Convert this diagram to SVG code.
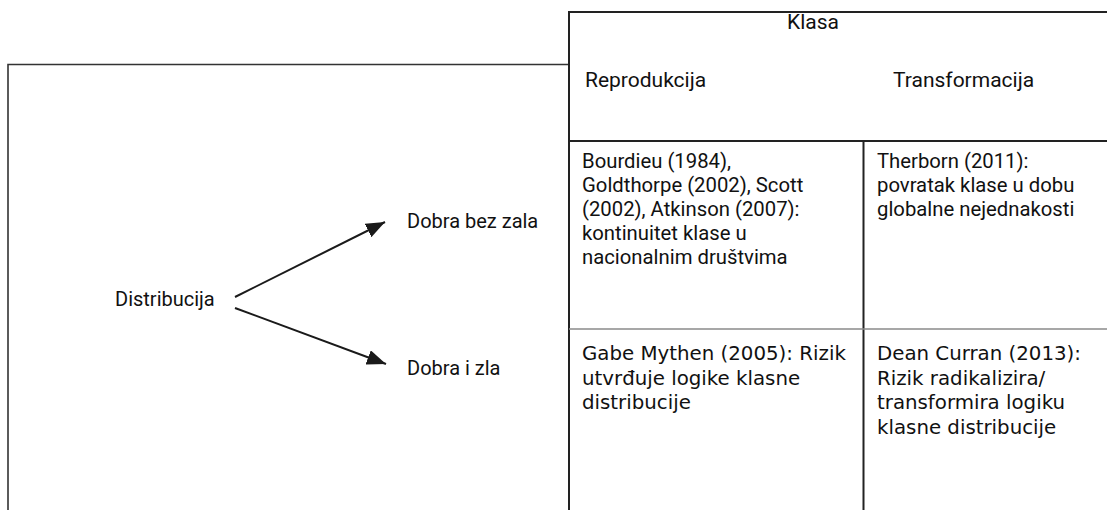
<svg xmlns="http://www.w3.org/2000/svg" width="1107" height="510" viewBox="0 0 1107 510">
  <style>
    .bg { fill: #ffffff; }
    .frame { fill: none; stroke: #333333; stroke-width: 1.6; }
    .grid { fill: none; stroke: #222222; stroke-width: 2; }
    .gridlight { fill: none; stroke: #8a8a8a; stroke-width: 1.6; }
    .conn { fill: none; stroke: #1a1a1a; stroke-width: 2; }
    .lbl { font-family: Roboto, "Open Sans", sans-serif; font-size: 20px; fill: #111111; }
    .u { font-family: Roboto, "Open Sans", sans-serif; font-size: 20.3px; fill: #111111; }
    .h { font-family: Roboto, "Open Sans", sans-serif; font-size: 21px; fill: #111111; }
    .d { font-family: "DejaVu Sans", sans-serif; font-size: 19.8px; fill: #111111; }
  </style>
  <defs>
    <marker id="arrowhead" viewBox="0 0 19 15" refX="19" refY="7.5" markerWidth="19" markerHeight="15" markerUnits="userSpaceOnUse" orient="auto">
      <path d="M0,0 L19,7.5 L0,15 Z" fill="#1a1a1a"/>
    </marker>
  </defs>
  <rect class="bg" x="0" y="0" width="1107" height="510"/>

  <g id="left-panel">
    <path class="frame" d="M8,520 L8,64.5 L569,64.5"/>
  </g>

  <g id="table">
    <path class="grid" d="M569,520 L569,12 L1110,12"/>
    <path class="grid" d="M569,141 L1110,141"/>
    <path class="grid" d="M863.5,141 L863.5,520"/>
    <path class="gridlight" d="M569,329 L1110,329"/>
  </g>

  <g id="node-klasa">
    <text class="h" x="813" y="29" text-anchor="middle">Klasa</text>
  </g>
  <g id="node-reprodukcija">
    <text class="h" x="585" y="87">Reprodukcija</text>
  </g>
  <g id="node-transformacija">
    <text class="h" x="893" y="87">Transformacija</text>
  </g>

  <g id="node-bourdieu">
    <text class="u" x="582">
      <tspan x="582" y="168">Bourdieu (1984),</tspan>
      <tspan x="582" y="192">Goldthorpe (2002), Scott</tspan>
      <tspan x="582" y="216">(2002), Atkinson (2007):</tspan>
      <tspan x="582" y="240">kontinuitet klase u</tspan>
      <tspan x="582" y="264">nacionalnim društvima</tspan>
    </text>
  </g>
  <g id="node-therborn">
    <text class="u" x="877">
      <tspan x="877" y="168">Therborn (2011):</tspan>
      <tspan x="877" y="192">povratak klase u dobu</tspan>
      <tspan x="877" y="216">globalne nejednakosti</tspan>
    </text>
  </g>
  <g id="node-mythen">
    <text class="d" x="582">
      <tspan x="582" y="360">Gabe Mythen (2005): Rizik</tspan>
      <tspan x="582" y="384.5">utvrđuje logike klasne</tspan>
      <tspan x="582" y="409">distribucije</tspan>
    </text>
  </g>
  <g id="node-curran">
    <text class="d" x="877">
      <tspan x="877" y="360">Dean Curran (2013):</tspan>
      <tspan x="877" y="384.5">Rizik radikalizira/</tspan>
      <tspan x="877" y="409">transformira logiku</tspan>
      <tspan x="877" y="433.5">klasne distribucije</tspan>
    </text>
  </g>

  <g id="node-distribucija">
    <text class="lbl" x="115" y="306">Distribucija</text>
  </g>
  <g id="node-dobra-bez-zala">
    <text class="lbl" x="407" y="228">Dobra bez zala</text>
  </g>
  <g id="node-dobra-i-zla">
    <text class="lbl" x="407" y="375">Dobra i zla</text>
  </g>

  <g id="connectors">
    <line class="conn" x1="235" y1="297" x2="385" y2="222" marker-end="url(#arrowhead)"/>
    <line class="conn" x1="235" y1="308" x2="386" y2="364" marker-end="url(#arrowhead)"/>
  </g>
</svg>
